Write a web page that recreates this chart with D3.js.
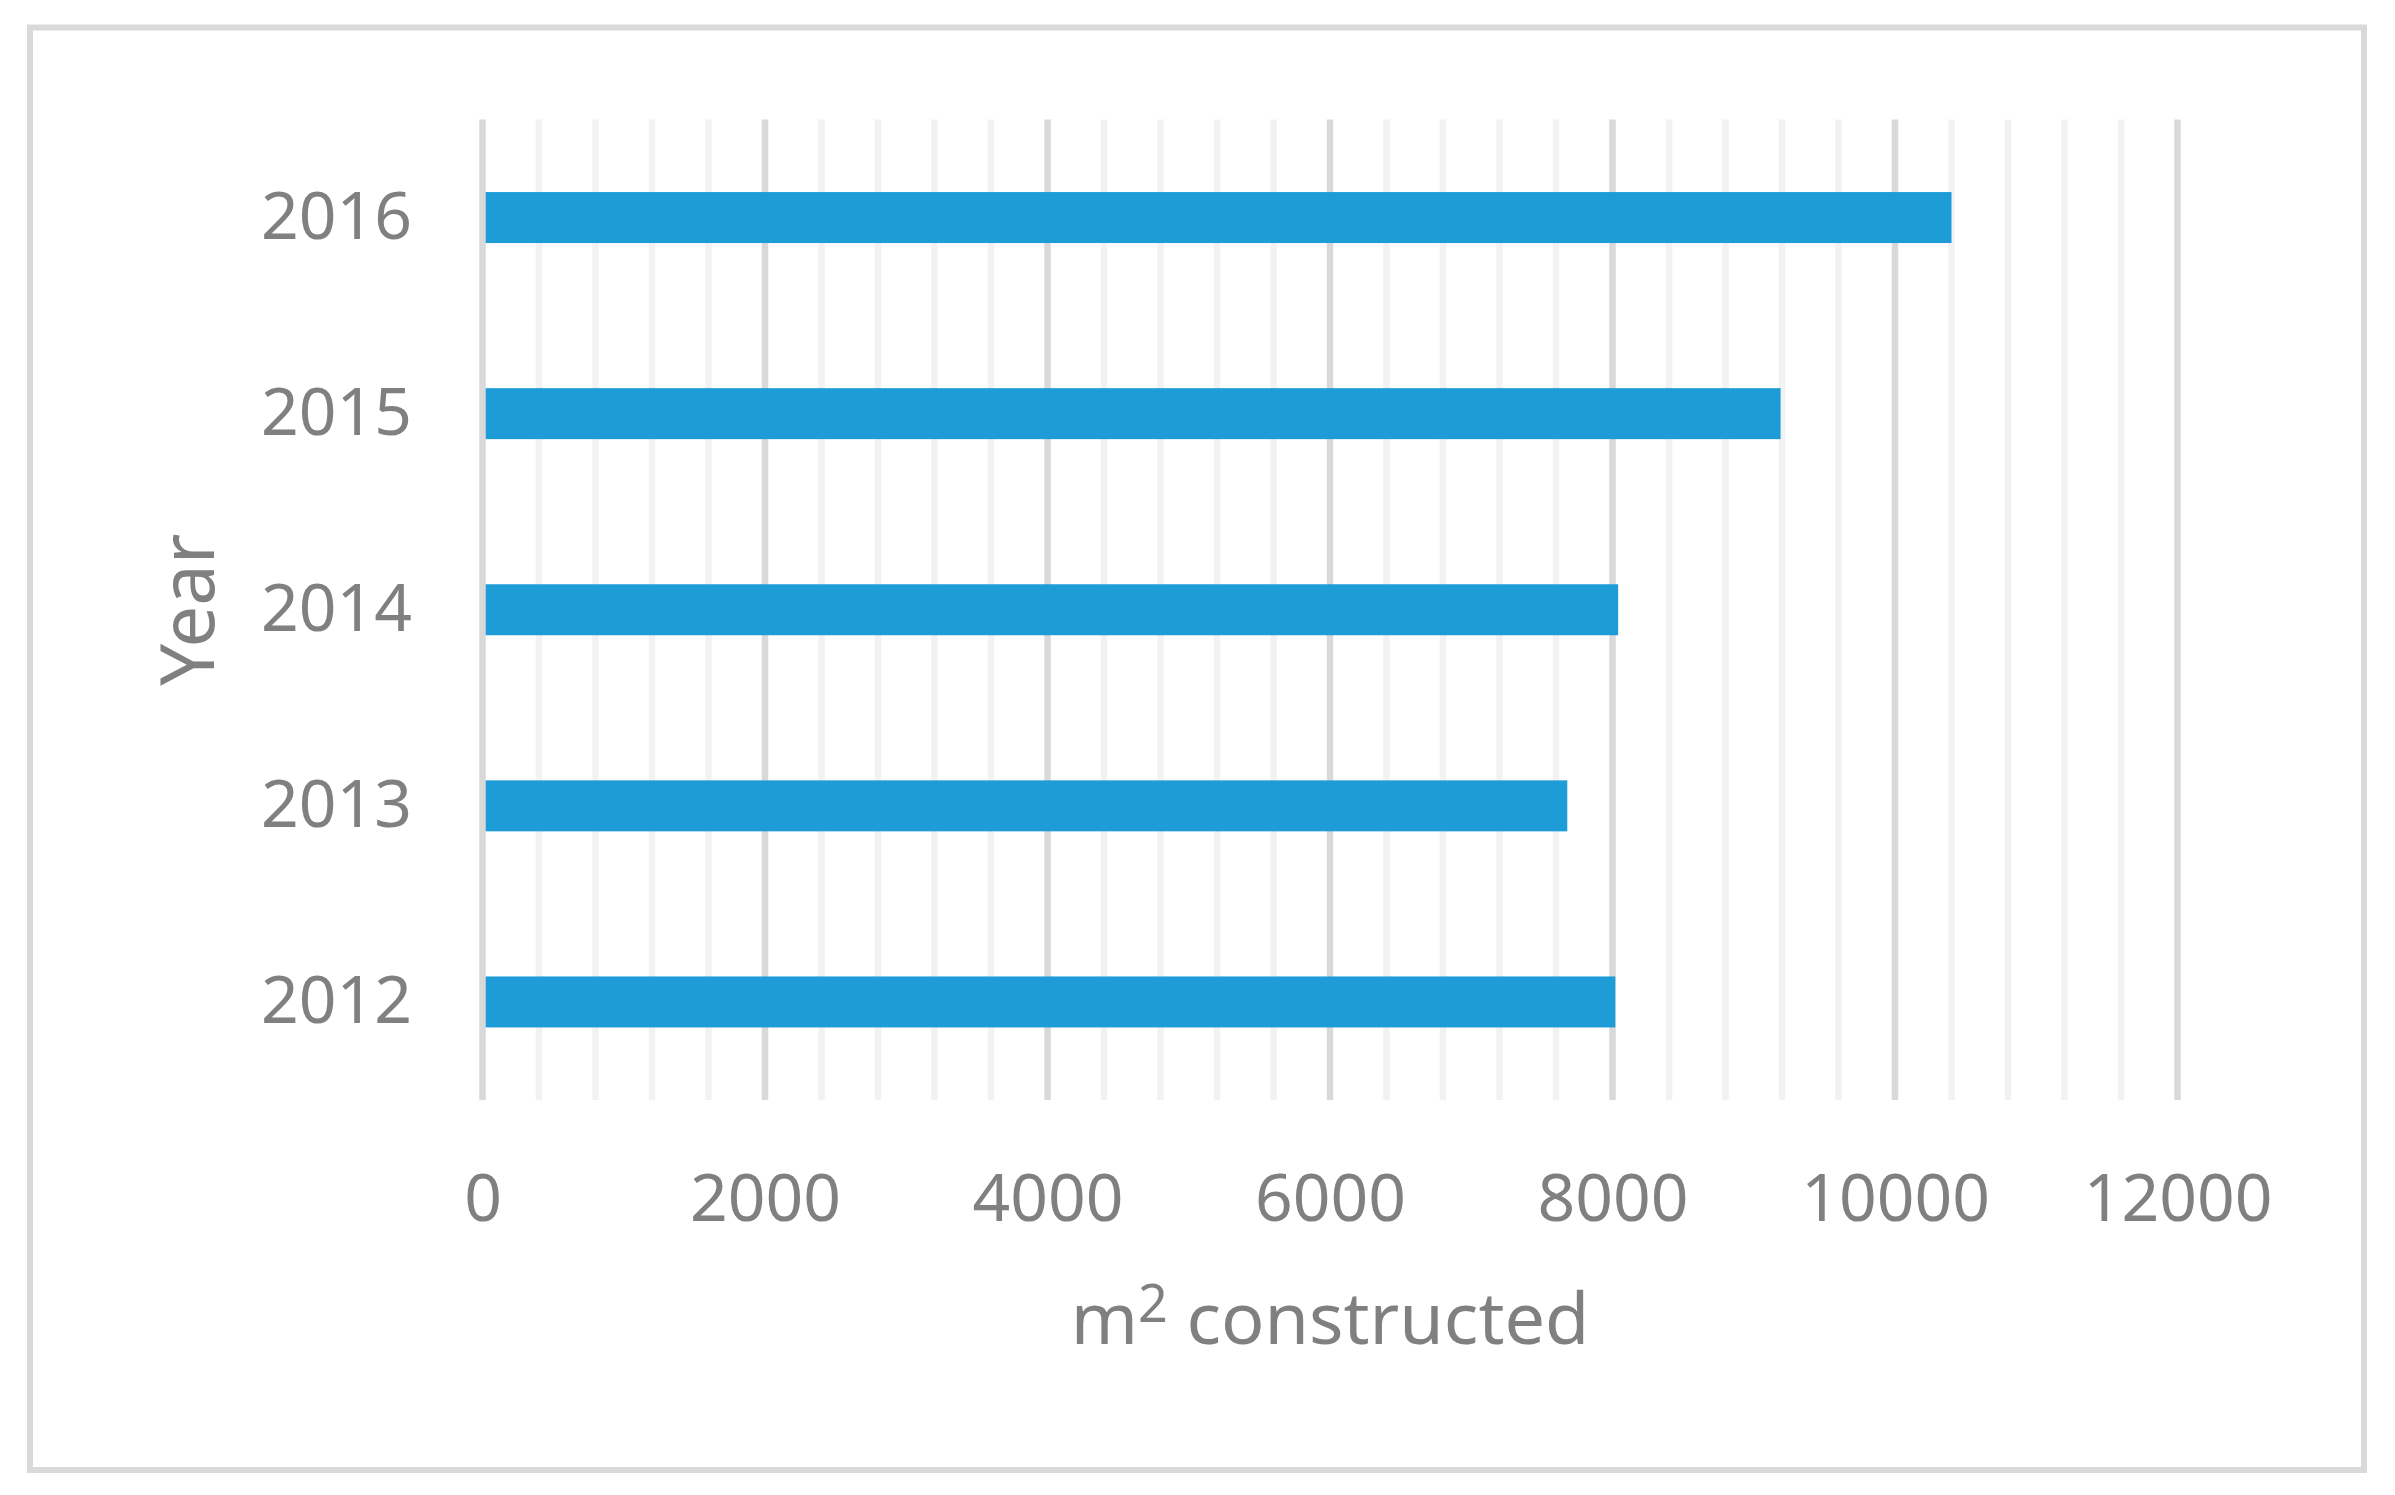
<!DOCTYPE html>
<html>
<head>
<meta charset="utf-8">
<script src="https://cdn.jsdelivr.net/npm/d3@7"></script>
<style>
  body { margin: 0; background: #fff; }
  text { font-family: "Noto Sans", sans-serif; fill: #808080; }
</style>
</head>
<body>
<div id="chart"></div>
<script>
// Chart size
const width = 2395;
const height = 1495;

// Data
const years = ["2016", "2015", "2014", "2013", "2012"];
const area = [10400, 9190, 8040, 7680, 8020];
const xTicks = [0, 2000, 4000, 6000, 8000, 10000, 12000];

// Plot area
const plotLeft = 482.5, plotRight = 2177.5, plotTop = 119.5, plotBottom = 1100;

const svg = d3.select("#chart")
    .append("svg")
    .attr("width", width)
    .attr("height", height);

// Outer frame
svg.append("rect")
    .attr("x", 30)
    .attr("y", 27.5)
    .attr("width", 2334)
    .attr("height", 1442.5)
    .attr("fill", "#fff")
    .attr("stroke", "#d9d9d9")
    .attr("stroke-width", 6);

const x = d3.scaleLinear()
    .domain([0, 12000])
    .range([plotLeft, plotRight]);

const y = d3.scaleBand()
    .domain(years)
    .range([plotTop, plotBottom])
    .paddingInner(0.74)
    .paddingOuter(0.37);

// Minor gridlines every 400
svg.append("g")
    .selectAll("line")
    .data(d3.range(400, 12000, 400).filter(d => d % 2000 !== 0))
    .enter().append("line")
    .attr("x1", d => x(d))
    .attr("x2", d => x(d))
    .attr("y1", plotTop)
    .attr("y2", plotBottom)
    .attr("stroke", "#f2f2f2")
    .attr("stroke-width", 6.5);

// Major gridlines every 2000
svg.append("g")
    .selectAll("line")
    .data(xTicks.slice(1))
    .enter().append("line")
    .attr("x1", d => x(d))
    .attr("x2", d => x(d))
    .attr("y1", plotTop)
    .attr("y2", plotBottom)
    .attr("stroke", "#d9d9d9")
    .attr("stroke-width", 6.5);

// Bars
svg.append("g")
    .selectAll("rect")
    .data(years)
    .enter().append("rect")
    .attr("x", x(0))
    .attr("y", d => y(d))
    .attr("width", (d, i) => x(area[i]) - x(0))
    .attr("height", y.bandwidth())
    .attr("fill", "#1e9cd7");

// Zero line over the bars
svg.append("line")
    .attr("x1", x(0))
    .attr("x2", x(0))
    .attr("y1", plotTop)
    .attr("y2", plotBottom)
    .attr("stroke", "#d9d9d9")
    .attr("stroke-width", 6.5);

// X axis labels
const xAxis = svg.append("g")
    .attr("transform", `translate(0, ${plotBottom})`)
    .call(d3.axisBottom(x).tickValues(xTicks).tickSize(0).tickPadding(74).tickFormat(d3.format("d")));
xAxis.select(".domain").remove();
xAxis.selectAll("text")
    .style("font-size", "66px")
    .attr("fill", null);

// Y axis labels
const yAxis = svg.append("g")
    .attr("transform", `translate(${plotLeft}, 0)`)
    .call(d3.axisLeft(y).tickSize(0).tickPadding(70.5));
yAxis.select(".domain").remove();
yAxis.selectAll("text")
    .style("font-size", "66px")
    .attr("fill", null);

// Axis titles
const xTitle = svg.append("text")
    .attr("x", (plotLeft + plotRight) / 2)
    .attr("y", 1344)
    .attr("text-anchor", "middle")
    .style("font-size", "72px");
xTitle.append("tspan").text("m");
xTitle.append("tspan")
    .attr("dy", "-0.42em")
    .style("font-size", "52px")
    .text("2");
xTitle.append("tspan")
    .attr("dy", "0.30em")
    .text(" constructed");

svg.append("text")
    .attr("transform", `translate(214, ${(plotTop + plotBottom) / 2}) rotate(-90)`)
    .attr("text-anchor", "middle")
    .style("font-size", "74px")
    .text("Year");
</script>
</body>
</html>
